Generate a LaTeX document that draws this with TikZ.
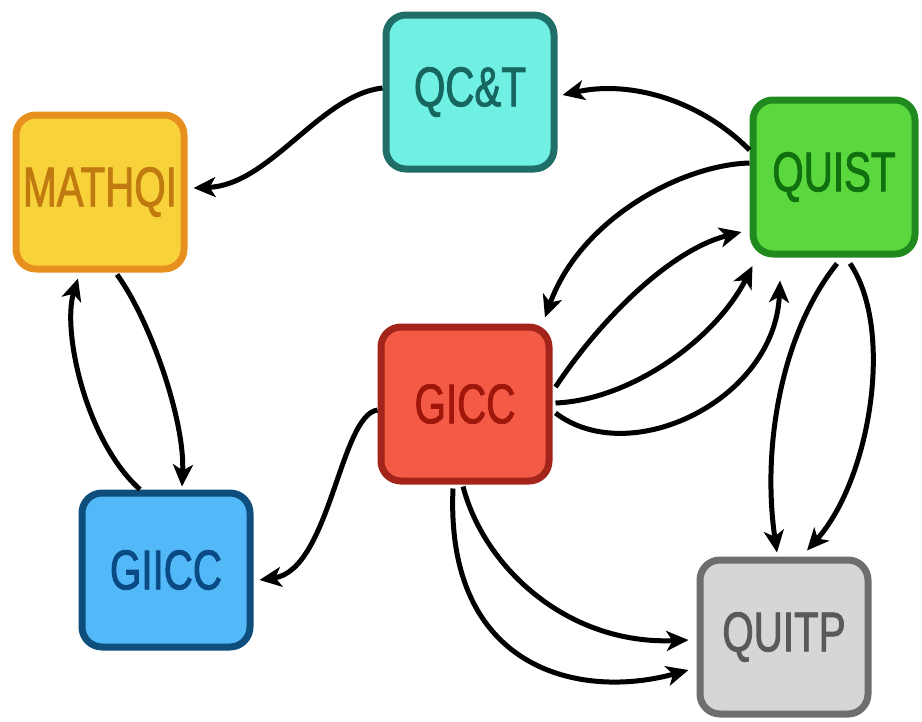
\documentclass[tikz,border=0pt]{standalone}
\usepackage{fontspec}
\newfontfamily\boxfont[FakeStretch=0.72,FakeBold=1.5]{Liberation Sans}
\usetikzlibrary{arrows.meta,calc}
\definecolor{qctfill}{HTML}{70F0E2}\definecolor{qctdraw}{HTML}{1F6E68}\definecolor{qcttext}{HTML}{176660}
\definecolor{mathfill}{HTML}{F8D23A}\definecolor{mathdraw}{HTML}{E8901E}\definecolor{mathtext}{HTML}{C07A10}
\definecolor{quistfill}{HTML}{5AD83E}\definecolor{quistdraw}{HTML}{218A1F}\definecolor{quisttext}{HTML}{107010}
\definecolor{giccfill}{HTML}{F45B46}\definecolor{giccdraw}{HTML}{A3241A}\definecolor{gicctext}{HTML}{A0160B}
\definecolor{giiccfill}{HTML}{52B8F7}\definecolor{giiccdraw}{HTML}{0E4E7D}\definecolor{giicctext}{HTML}{0A4A84}
\definecolor{quitpfill}{HTML}{D6D6D6}\definecolor{quitpdraw}{HTML}{6E6E6E}\definecolor{quitptext}{HTML}{595959}
\begin{document}
\begin{tikzpicture}[x=1pt,y=-1pt,
  box/.style={rectangle, rounded corners=20pt, line width=7pt, minimum width=168pt,
    minimum height=154pt, inner sep=0pt, font=\boxfont\fontsize{56}{60}\selectfont},
  link/.style={line width=5pt, -{Stealth[length=22pt,width=20pt,inset=6pt]}}]
\useasboundingbox[fill=white] (0,0) rectangle (922,721);
\node[box, fill=qctfill, draw=qctdraw, text=qcttext] (qct) at (470,92) {QC\&T};
\node[box, fill=mathfill, draw=mathdraw, text=mathtext] (mathqi) at (100,192) {MATHQI};
\node[box, fill=quistfill, draw=quistdraw, text=quisttext, minimum width=162pt] (quist) at (834,177) {QUIST};
\node[box, fill=giccfill, draw=giccdraw, text=gicctext] (gicc) at (465,404) {GICC};
\node[box, fill=giiccfill, draw=giiccdraw, text=giicctext] (giicc) at (166,570) {GIICC};
\node[box, fill=quitpfill, draw=quitpdraw, text=quitptext] (quitp) at (784,637) {QUITP};
% QUIST -> QC&T
\draw[link] ($(quist.west)+(0,-27)$) .. controls (700,100) and (630,80) .. ($(qct.east)+(5,3)$);
% QC&T -> MATHQI
\draw[link] ($(qct.west)+(0,-4)$) .. controls (320,95) and (270,185) .. ($(mathqi.east)+(6,-4)$);
% MATHQI -> GIICC
\draw[link] ($(mathqi.south)+(17,2)$) .. controls (150,320) and (185,420) .. ($(giicc.north)+(16,-3)$);
% GIICC -> MATHQI
\draw[link] ($(giicc.north)+(-26,0)$) .. controls (85,440) and (62,330) .. ($(mathqi.south)+(-22,6)$);
% GICC -> GIICC
\draw[link] ($(gicc.west)+(0,6)$) .. controls (340,415) and (330,570) .. ($(giicc.east)+(6,10)$);
% QUIST -> GICC
\draw[link] ($(quist.west)+(0,-14)$) .. controls (680,165) and (580,220) .. ($(gicc.north)+(80,-6)$);
% GICC -> QUIST (three)
\draw[link] ($(gicc.east)+(3,-17)$) .. controls (600,320) and (670,250) .. ($(quist.west)+(-8,55)$);
\draw[link] ($(gicc.east)+(3,-1)$) .. controls (630,400) and (715,340) .. ($(quist.west)+(3,89)$);
\draw[link] ($(gicc.east)+(3,9)$) .. controls (630,470) and (775,400) .. ($(quist.south)+(-54,23)$);
% QUIST -> QUITP (two)
\draw[link] ($(quist.south)+(3,6)$) .. controls (780,335) and (762,450) .. ($(quitp.north)+(-7,-4)$);
\draw[link] ($(quist.south)+(16,6)$) .. controls (895,330) and (870,480) .. ($(quitp.north)+(23,-6)$);
% GICC -> QUITP (two)
\draw[link] ($(gicc.south)+(-2,2)$) .. controls (485,570) and (570,645) .. ($(quitp.west)+(-8,3)$);
\draw[link] ($(gicc.south)+(-12,4)$) .. controls (445,670) and (580,700) .. ($(quitp.west)+(-8,33)$);
\end{tikzpicture}
\end{document}
